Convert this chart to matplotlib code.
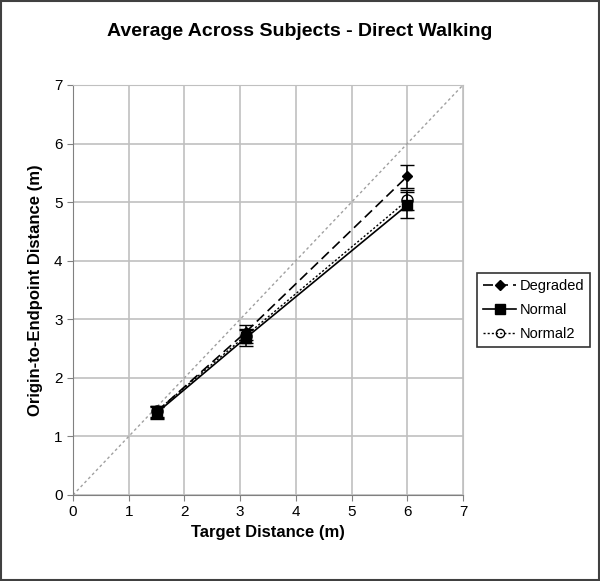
import matplotlib
matplotlib.use("Agg")
import matplotlib.pyplot as plt
from matplotlib.patches import Rectangle
from matplotlib.lines import Line2D

plt.rcParams['font.family'] = ['Liberation Sans', 'DejaVu Sans']

target = [1.5, 3.1, 6.0]
degraded = [1.42, 2.78, 5.44]
degraded_err = [0.10, 0.13, 0.20]
normal = [1.40, 2.68, 4.95]
normal_err = [0.11, 0.14, 0.22]
normal2 = [1.43, 2.72, 5.03]
normal2_err = [0.09, 0.12, 0.17]
series_names = ['Degraded', 'Normal', 'Normal2']
ticks = [0, 1, 2, 3, 4, 5, 6, 7]

fig = plt.figure(figsize=(6.0, 5.81), dpi=100)
W, H = 600, 581
ax = fig.add_axes([73 / W, 1 - 495 / H, 390 / W, 410 / H])

ax.set_xlim(0, 7)
ax.set_ylim(0, 7)
ax.set_xticks(ticks)
ax.set_yticks(ticks)
ax.grid(True, color='#c0c0c0', linewidth=1.2)
ax.set_axisbelow(True)
for s in ['top', 'right']:
    ax.spines[s].set_color('#c0c0c0')
for s in ['left', 'bottom']:
    ax.spines[s].set_color('#808080')
ax.tick_params(axis='both', labelsize=11, length=4, color='#808080')

ax.plot([0, 7], [0, 7], linestyle=(0, (2, 2)), color='#a0a0a0', linewidth=1, zorder=1)

styles = [
    dict(linestyle=(0, (6, 3)), marker='D', markersize=5.5, linewidth=1.2),
    dict(linestyle='-', marker='s', markersize=6.5, linewidth=1.2),
    dict(linestyle=(0, (1.5, 1.5)), marker='o', markersize=8, markerfacecolor='none', linewidth=1.0),
]
data = [(degraded, degraded_err), (normal, normal_err), (normal2, normal2_err)]
handles = []
for (vals, errs), st, name in zip(data, styles, series_names):
    ax.errorbar(target, vals, yerr=errs, color='black', capsize=5, elinewidth=1.1,
                zorder=3, **st)
    hst = dict(st)
    if hst['marker'] == 'o':
        hst['markersize'] = 6
    handles.append(Line2D([], [], color='black', label=name, **hst))

ax.set_xlabel('Target Distance (m)', fontsize=12, fontweight='bold', labelpad=4)
ax.set_ylabel('Origin-to-Endpoint Distance (m)', fontsize=12, fontweight='bold', labelpad=8)
fig.suptitle('Average Across Subjects - Direct Walking', fontsize=14, fontweight='bold',
             x=0.5, y=1 - 32 / H, va='center')

leg = fig.legend(handles=handles, loc='center left', bbox_to_anchor=(477 / W, 1 - 310 / H),
                 fontsize=10.5, frameon=True, fancybox=False, edgecolor='black',
                 handlelength=2.3, borderpad=0.4, labelspacing=0.7, handletextpad=0.2,
                 borderaxespad=0)
leg.get_frame().set_linewidth(1.2)

fig.patches.append(Rectangle((0.002, 0.002), 0.996, 0.996, transform=fig.transFigure,
                             fill=False, edgecolor='#404040', linewidth=1.5))

fig.savefig('out.png', dpi=100)
